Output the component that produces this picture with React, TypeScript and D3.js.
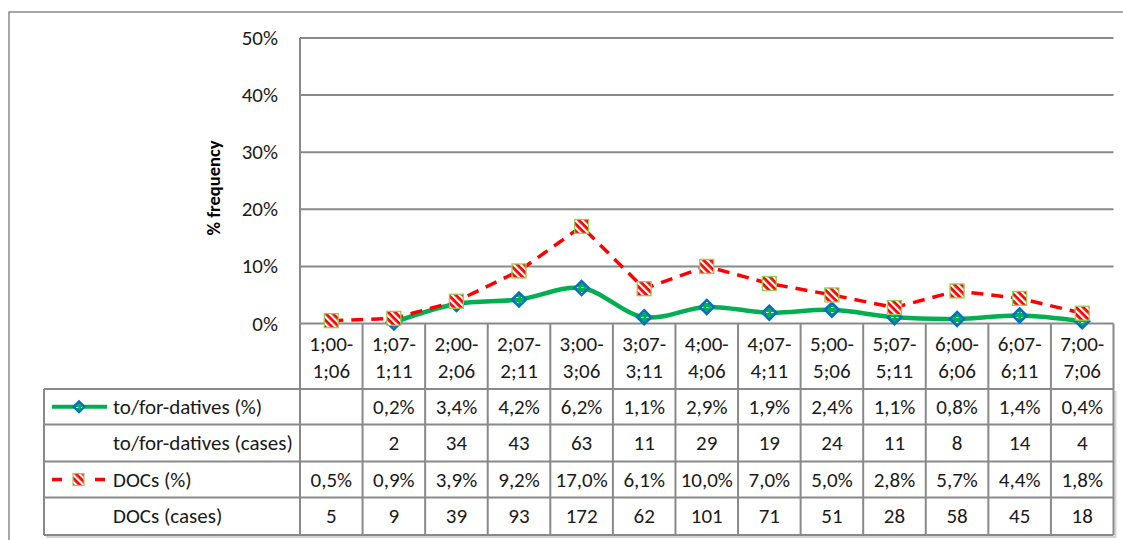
import React from "react";
import * as d3 from "d3";

const categories = ["1;00-1;06", "1;07-1;11", "2;00-2;06", "2;07-2;11", "3;00-3;06", "3;07-3;11", "4;00-4;06", "4;07-4;11", "5;00-5;06", "5;07-5;11", "6;00-6;06", "6;07-6;11", "7;00-7;06"];
const toForPct: (number | null)[] = [null, 0.2, 3.4, 4.2, 6.2, 1.1, 2.9, 1.9, 2.4, 1.1, 0.8, 1.4, 0.4];
const toForCases: (number | null)[] = [null, 2, 34, 43, 63, 11, 29, 19, 24, 11, 8, 14, 4];
const docsPct: (number | null)[] = [0.5, 0.9, 3.9, 9.2, 17.0, 6.1, 10.0, 7.0, 5.0, 2.8, 5.7, 4.4, 1.8];
const docsCases: (number | null)[] = [5, 9, 39, 93, 172, 62, 101, 71, 51, 28, 58, 45, 18];
const yTicks = [0, 10, 20, 30, 40, 50];
const rowLabels = ["to/for-datives (%)", "to/for-datives (cases)", "DOCs (%)", "DOCs (cases)"];
const yTitle = "% frequency";

const W = 1123, H = 540;
const plotLeft = 300, plotRight = 1113.5, plotTop = 38, plotBottom = 323.5;
const tableLeft = 44;
const rowLines = [389, 424.5, 461.5, 497.5, 535];
const FONT = "Carlito, Calibri, Lato, sans-serif";
const FS = 21;
const GRID = "#898989";
const GREEN = "#00B050";
const BLUE = "#0070C0";
const RED = "#FF0000";
const TXT = "#1a1a1a";

const pctFmt = (v: number | null) => (v == null ? "" : v.toFixed(1).replace(".", ",") + "%");
const numFmt = (v: number | null) => (v == null ? "" : String(v));

export default function App() {
  const x = d3.scaleBand<string>().domain(categories).range([plotLeft, plotRight]);
  const bw = x.bandwidth();
  const cx = (i: number) => (x(categories[i]) as number) + bw / 2;
  const y = d3.scaleLinear().domain([0, 50]).range([plotBottom, plotTop]);

  const greenLine = d3
    .line<number | null>()
    .defined((d) => d != null)
    .x((_, i) => cx(i))
    .y((d) => y(d as number))
    .curve(d3.curveCatmullRom.alpha(0.5));
  const redLine = d3
    .line<number | null>()
    .defined((d) => d != null)
    .x((_, i) => cx(i))
    .y((d) => y(d as number));

  const diamond = (px: number, py: number, r: number) => `M${px},${py - r}L${px + r},${py}L${px},${py + r}L${px - r},${py}Z`;

  const rows: { vals: (number | null)[]; fmt: (v: number | null) => string }[] = [
    { vals: toForPct, fmt: pctFmt },
    { vals: toForCases, fmt: numFmt },
    { vals: docsPct, fmt: pctFmt },
    { vals: docsCases, fmt: numFmt },
  ];

  return (
    <svg width={W} height={H} style={{ position: "absolute", left: 0, top: 0, background: "#fff" }} fontFamily={FONT}>
      <defs>
        <pattern id="stripes" patternUnits="userSpaceOnUse" width={5} height={5} patternTransform="rotate(45)">
          <rect x={0} y={0} width={5} height={5} fill="#fff" />
          <rect x={0} y={0} width={5} height={2.8} fill={RED} />
        </pattern>
        <pattern id="dots" patternUnits="userSpaceOnUse" width={5} height={5}>
          <rect x={0} y={0} width={5} height={5} fill={GREEN} />
          <rect x={1} y={2} width={2.5} height={1} fill="#fff" />
        </pattern>
      </defs>
      <rect x={0} y={0} width={W} height={H} fill="#fff" />
      {/* outer frame */}
      <rect x={9} y={12} width={1300} height={700} fill="none" stroke="#8c8c8c" strokeWidth={1.5} />

      {/* gridlines */}
      {yTicks.map((t) => (
        <g key={t}>
          <line x1={plotLeft} x2={plotRight} y1={y(t)} y2={y(t)} stroke={GRID} strokeWidth={2} />
          <text x={278} y={y(t)} textAnchor="end" dominantBaseline="central" fontSize={FS} fill={TXT}>
            {t + "%"}
          </text>
        </g>
      ))}
      <line x1={plotLeft} x2={plotLeft} y1={plotTop} y2={plotBottom} stroke={GRID} strokeWidth={2} />

      {/* y title */}
      <text
        transform={`translate(213,188) rotate(-90)`}
        textAnchor="middle"
        dominantBaseline="central"
        fontSize={18.5}
        fontWeight="bold"
        fill="#000"
      >
        {yTitle}
      </text>

      {/* table shadow */}
      <polyline
        points={`${tableLeft + 2},${rowLines[4] + 2} ${plotRight + 2},${rowLines[4] + 2} ${plotRight + 2},${rowLines[0] + 2}`}
        fill="none"
        stroke="#d4d4d4"
        strokeWidth={2}
      />
      {/* table horizontal lines */}
      {rowLines.map((ly) => (
        <line key={ly} x1={tableLeft} x2={plotRight} y1={ly} y2={ly} stroke={GRID} strokeWidth={2} />
      ))}
      {/* vertical lines */}
      <line x1={tableLeft} x2={tableLeft} y1={rowLines[0]} y2={rowLines[4]} stroke={GRID} strokeWidth={2} />
      {categories.map((c) => (
        <line key={"v" + c} x1={x(c) as number} x2={x(c) as number} y1={plotBottom} y2={rowLines[4]} stroke={GRID} strokeWidth={2} />
      ))}
      <line x1={plotRight} x2={plotRight} y1={plotBottom} y2={rowLines[4]} stroke={GRID} strokeWidth={2} />

      {/* category labels */}
      {categories.map((c, i) => {
        const k = c.indexOf("-");
        return (
          <text key={"c" + c} x={cx(i)} textAnchor="middle" fontSize={FS} fill={TXT}>
            <tspan x={cx(i)} y={344} dominantBaseline="central">{c.slice(0, k + 1)}</tspan>
            <tspan x={cx(i)} y={371} dominantBaseline="central">{c.slice(k + 1)}</tspan>
          </text>
        );
      })}

      {/* row labels */}
      {rowLabels.map((l, r) => (
        <text key={l} x={113} y={(rowLines[r] + rowLines[r + 1]) / 2} dominantBaseline="central" fontSize={FS} fill={TXT}>
          {l}
        </text>
      ))}
      {/* row values */}
      {rows.map((row, r) =>
        row.vals.map((v, i) => (
          <text
            key={r + "-" + i}
            x={cx(i)}
            y={(rowLines[r] + rowLines[r + 1]) / 2}
            textAnchor="middle"
            dominantBaseline="central"
            fontSize={FS}
            fill={TXT}
          >
            {row.fmt(v)}
          </text>
        ))
      )}

      {/* legend keys */}
      {(() => {
        const ly1 = (rowLines[0] + rowLines[1]) / 2;
        const ly3 = (rowLines[2] + rowLines[3]) / 2;
        return (
          <g>
            <line x1={52} x2={107} y1={ly1} y2={ly1} stroke={GREEN} strokeWidth={4} />
            <path d={diamond(79, ly1, 5.5)} fill="url(#dots)" stroke={BLUE} strokeWidth={2.2} />
            <line x1={52} x2={62} y1={ly3} y2={ly3} stroke={RED} strokeWidth={3.5} />
            <line x1={95} x2={105} y1={ly3} y2={ly3} stroke={RED} strokeWidth={3.5} />
            <rect x={73} y={ly3 - 6} width={11} height={12} fill="url(#stripes)" stroke="#92D050" strokeWidth={1.2} />
          </g>
        );
      })()}

      {/* series 1 */}
      <path d={greenLine(toForPct) || ""} fill="none" stroke={GREEN} strokeWidth={4.5} strokeLinejoin="round" />
      {toForPct.map((v, i) =>
        v == null ? null : (
          <path key={"d" + i} d={diamond(cx(i), y(v), 7)} fill="url(#dots)" stroke={BLUE} strokeWidth={2.5} />
        )
      )}
      {/* series 2 */}
      <path d={redLine(docsPct) || ""} fill="none" stroke={RED} strokeWidth={3.5} strokeDasharray="12 8" />
      {docsPct.map((v, i) =>
        v == null ? null : (
          <rect key={"s" + i} x={cx(i) - 7} y={y(v) - 7} width={14} height={14} fill="url(#stripes)" stroke="#92D050" strokeWidth={1.3} />
        )
      )}
    </svg>
  );
}
